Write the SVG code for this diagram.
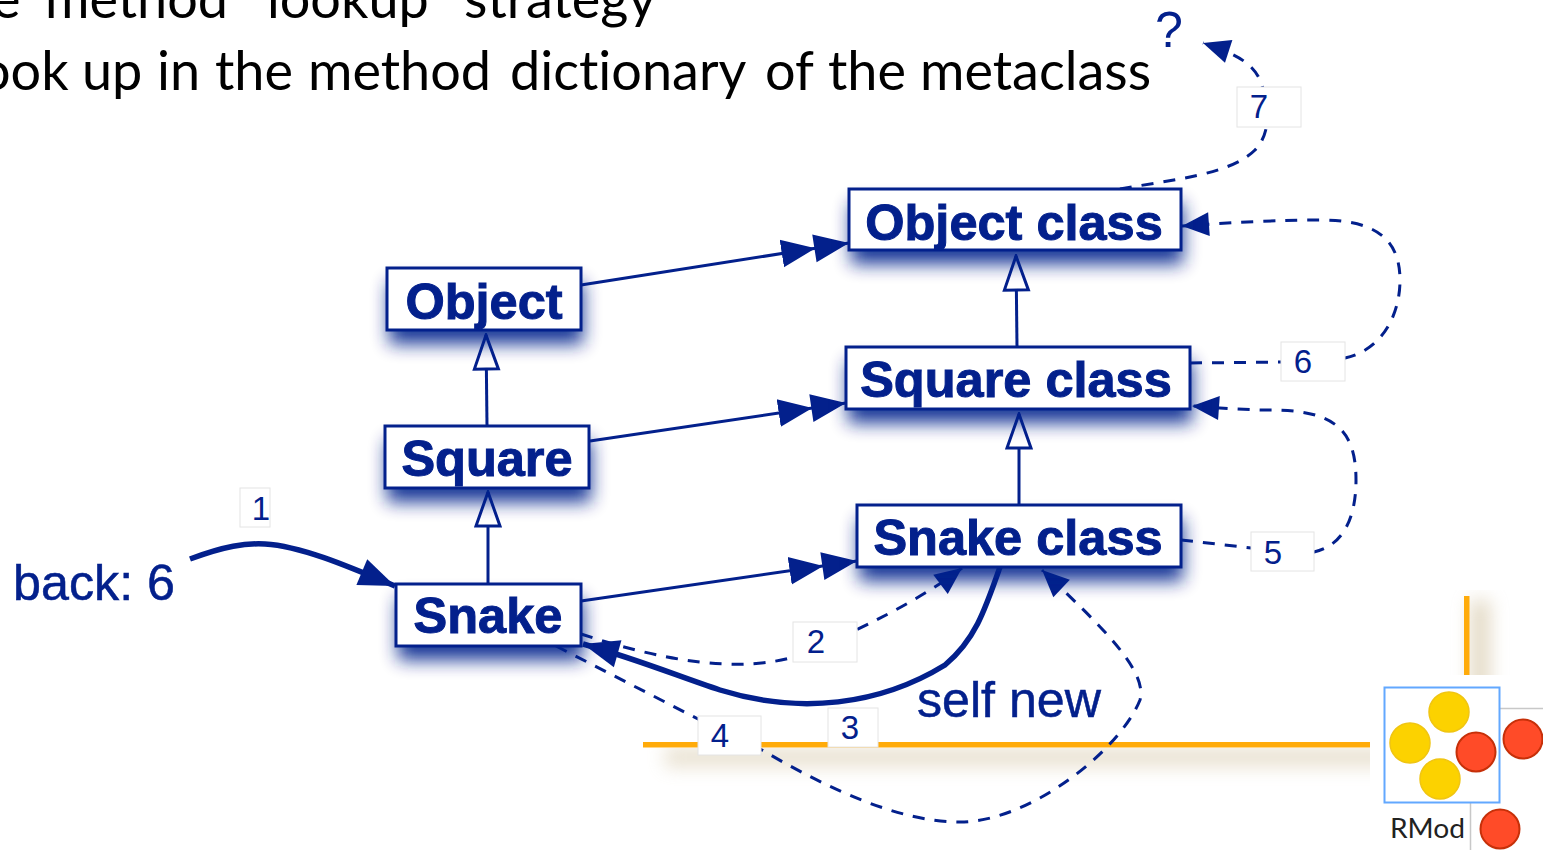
<svg xmlns="http://www.w3.org/2000/svg" width="1543" height="850" viewBox="0 0 1543 850">
<style>
text{font-family:"Liberation Sans",Arial,sans-serif}
.head{font-family:Lato,"Open Sans",sans-serif;font-size:54px;fill:#000;font-variant-ligatures:none}
.box{fill:#fff;stroke:#03208c;stroke-width:3}
.shadow{fill:#03208c;opacity:.9;filter:url(#blur)}
.name{font-weight:bold;font-size:50.5px;fill:#03208c;text-anchor:middle;stroke:#03208c;stroke-width:1}
.lab{fill:#fff;stroke:#e4e4e4;stroke-width:1}
.num{font-size:33px;fill:#03208c;text-anchor:middle}
.big{font-size:50px;fill:#03208c;stroke:#03208c;stroke-width:.5}
.line{fill:none;stroke:#03208c;stroke-width:3}
.dash{fill:none;stroke:#03208c;stroke-width:3;stroke-dasharray:12 10}
.thick{fill:none;stroke:#03208c;stroke-width:5.500}
.yellow{fill:#fcd200;stroke:#f0c512;stroke-width:1.5}
.red{fill:#ff4b28;stroke:#c63009;stroke-width:2}
</style>
<defs>
<filter id="blur" x="-30%" y="-60%" width="160%" height="240%"><feGaussianBlur stdDeviation="9"/></filter>
<filter id="soft" filterUnits="userSpaceOnUse" x="600" y="700" width="800" height="120"><feGaussianBlur stdDeviation="9"/></filter>
<filter id="softv" filterUnits="userSpaceOnUse" x="1420" y="570" width="120" height="140"><feGaussianBlur stdDeviation="9"/></filter>
<clipPath id="ch"><rect x="620" y="748" width="750" height="50"/></clipPath>
<clipPath id="cv"><rect x="1440" y="590" width="80" height="85"/></clipPath>
<marker id="double" markerUnits="userSpaceOnUse" markerWidth="72" markerHeight="32" refX="68" refY="16" orient="auto" viewBox="0 0 72 32"><path d="M0,2 L34,16 L0,30 Z M33,2 L68,16 L33,30 Z" fill="#03208c"/></marker>
<marker id="hollow" markerUnits="userSpaceOnUse" markerWidth="38" markerHeight="30" refX="36" refY="15" orient="auto" viewBox="0 0 38 30"><path d="M2,3 L36,15 L2,27 Z" fill="#fff" stroke="#03208c" stroke-width="3"/></marker>
<marker id="tip" markerUnits="userSpaceOnUse" markerWidth="30" markerHeight="28" refX="28" refY="14" orient="auto" viewBox="0 0 30 28"><path d="M1,2 L28,14 L1,26 Z" fill="#03208c"/></marker>
<marker id="tipbig" markerUnits="userSpaceOnUse" markerWidth="40" markerHeight="32" refX="38" refY="16" orient="auto" viewBox="0 0 40 32"><path d="M2,2 L38,16 L2,30 Z" fill="#03208c"/></marker>
</defs>

<g id="background">
<text class="head" y="18"><tspan x="-8">e </tspan><tspan x="45">method </tspan><tspan x="267">lookup </tspan><tspan x="464">strategy</tspan></text>
<text class="head" y="90"><tspan x="-20">ook </tspan><tspan x="82">up </tspan><tspan x="157">in </tspan><tspan x="215">the </tspan><tspan x="308">method </tspan><tspan x="510">dictionary </tspan><tspan x="765">of </tspan><tspan x="828">the </tspan><tspan x="920">metaclass</tspan></text>
<g clip-path="url(#ch)"><rect x="665" y="747" width="760" height="20" fill="#c9b68c" opacity=".4" filter="url(#soft)"/></g>
<g clip-path="url(#cv)"><rect x="1470" y="600" width="20" height="110" fill="#c9b68c" opacity=".5" filter="url(#softv)"/></g>
<rect x="643" y="742" width="727" height="5.500" fill="#ffab0a"/>
<rect x="1464" y="596" width="5.500" height="79" fill="#ffab0a"/>
</g>

<g id="connectors">
<path class="line" d="M581,285 L849,243" marker-end="url(#double)"/>
<path class="line" d="M590,441 L846,403" marker-end="url(#double)"/>
<path class="line" d="M581,601 L857,561" marker-end="url(#double)"/>
<path class="line" d="M487,426 L486,335" marker-end="url(#hollow)"/>
<path class="line" d="M488,584 L488,492" marker-end="url(#hollow)"/>
<path class="line" d="M1017,347 L1016,256" marker-end="url(#hollow)"/>
<path class="line" d="M1019,505 L1019,414" marker-end="url(#hollow)"/>
<path class="thick" d="M190,559 C225,546 245,543 265,544 C300,546 345,565 395,586" marker-end="url(#tipbig)"/>
<path class="thick" d="M1000,567 C985,610 975,640 945,665 C880,705 800,715 720,690 C680,677 640,660 583,644" marker-end="url(#tipbig)"/>
<path class="dash" d="M581,634 C660,660 740,675 800,655 C860,630 920,600 962,568" marker-end="url(#tip)"/>
<path class="dash" d="M556,646 L700,720 L762,750 C830,790 900,822 960,822 C1030,822 1120,750 1140,700 C1148,670 1100,625 1042,570" marker-end="url(#tip)"/>
<path class="dash" d="M1181,540 L1251,548 L1314,552 C1345,545 1356,515 1356,480 C1356,430 1335,410 1270,410 C1245,410 1220,408 1192,406" marker-end="url(#tip)"/>
<path class="dash" d="M1190,363 L1281,362 L1345,358 C1382,350 1400,315 1400,280 C1400,235 1370,220 1320,220 C1280,220 1240,222 1182,226" marker-end="url(#tip)"/>
<path class="dash" d="M1120,189 C1170,180 1230,175 1255,150 C1265,140 1268,125 1268,110 L1262,85 C1255,65 1240,55 1203,43" marker-end="url(#tip)"/>
</g>

<g id="node-object-class"><rect class="shadow" x="851" y="203" width="332" height="61"/><rect class="box" x="849" y="189" width="332" height="61"/><text class="name" x="1014" y="240">Object class</text></g>
<g id="node-square-class"><rect class="shadow" x="848" y="361" width="344" height="62"/><rect class="box" x="846" y="347" width="344" height="62"/><text class="name" x="1016" y="397">Square class</text></g>
<g id="node-snake-class"><rect class="shadow" x="859" y="519" width="324" height="62"/><rect class="box" x="857" y="505" width="324" height="62"/><text class="name" x="1018" y="555">Snake class</text></g>
<g id="node-object"><rect class="shadow" x="389" y="282" width="194" height="62"/><rect class="box" x="387" y="268" width="194" height="62"/><text class="name" x="484" y="319">Object</text></g>
<g id="node-square"><rect class="shadow" x="387" y="440" width="204" height="62"/><rect class="box" x="385" y="426" width="204" height="62"/><text class="name" x="487" y="476">Square</text></g>
<g id="node-snake"><rect class="shadow" x="398" y="598" width="185" height="62"/><rect class="box" x="396" y="584" width="185" height="62"/><text class="name" x="488" y="633">Snake</text></g>

<g id="labels">
<g id="label-1"><rect class="lab" x="240" y="488" width="30" height="39"/><text class="num" x="261" y="520">1</text></g>
<g id="label-2"><rect class="lab" x="793" y="622" width="64" height="40"/><text class="num" x="816" y="653">2</text></g>
<g id="label-3"><rect class="lab" x="828" y="708" width="50" height="39"/><text class="num" x="850" y="739">3</text></g>
<g id="label-4"><rect class="lab" x="698" y="716" width="63" height="39"/><text class="num" x="720" y="747">4</text></g>
<g id="label-5"><rect class="lab" x="1251" y="532" width="63" height="39"/><text class="num" x="1273" y="564">5</text></g>
<g id="label-6"><rect class="lab" x="1281" y="342" width="64" height="39"/><text class="num" x="1303" y="373">6</text></g>
<g id="label-7"><rect class="lab" x="1237" y="87" width="64" height="40"/><text class="num" x="1259" y="118">7</text></g>
<text class="big" x="13" y="600" textLength="162" lengthAdjust="spacingAndGlyphs">back: 6</text>
<text class="big" x="917" y="717" textLength="184" lengthAdjust="spacingAndGlyphs">self new</text>
<text x="1155" y="47" font-size="50" fill="#03208c">?</text>
</g>

<g id="logo">
<path d="M1500,708.500 H1543 M1470.500,803 V850" stroke="#c8c8c8" stroke-width="1.500" fill="none"/>
<rect x="1384.500" y="687.500" width="115" height="115" fill="#fff" stroke="#62a8ff" stroke-width="2"/>
<circle class="yellow" cx="1449" cy="712" r="20"/>
<circle class="yellow" cx="1410" cy="743" r="20"/>
<circle class="yellow" cx="1440" cy="779" r="20"/>
<circle class="red" cx="1476" cy="752" r="19.500"/>
<circle class="red" cx="1523" cy="739" r="19.500"/>
<circle class="red" cx="1500" cy="829" r="19.500"/>
<text x="1390" y="838" font-size="26" fill="#222" textLength="75" lengthAdjust="spacingAndGlyphs" style="font-family:Lato,sans-serif">RMod</text>
</g>
</svg>
